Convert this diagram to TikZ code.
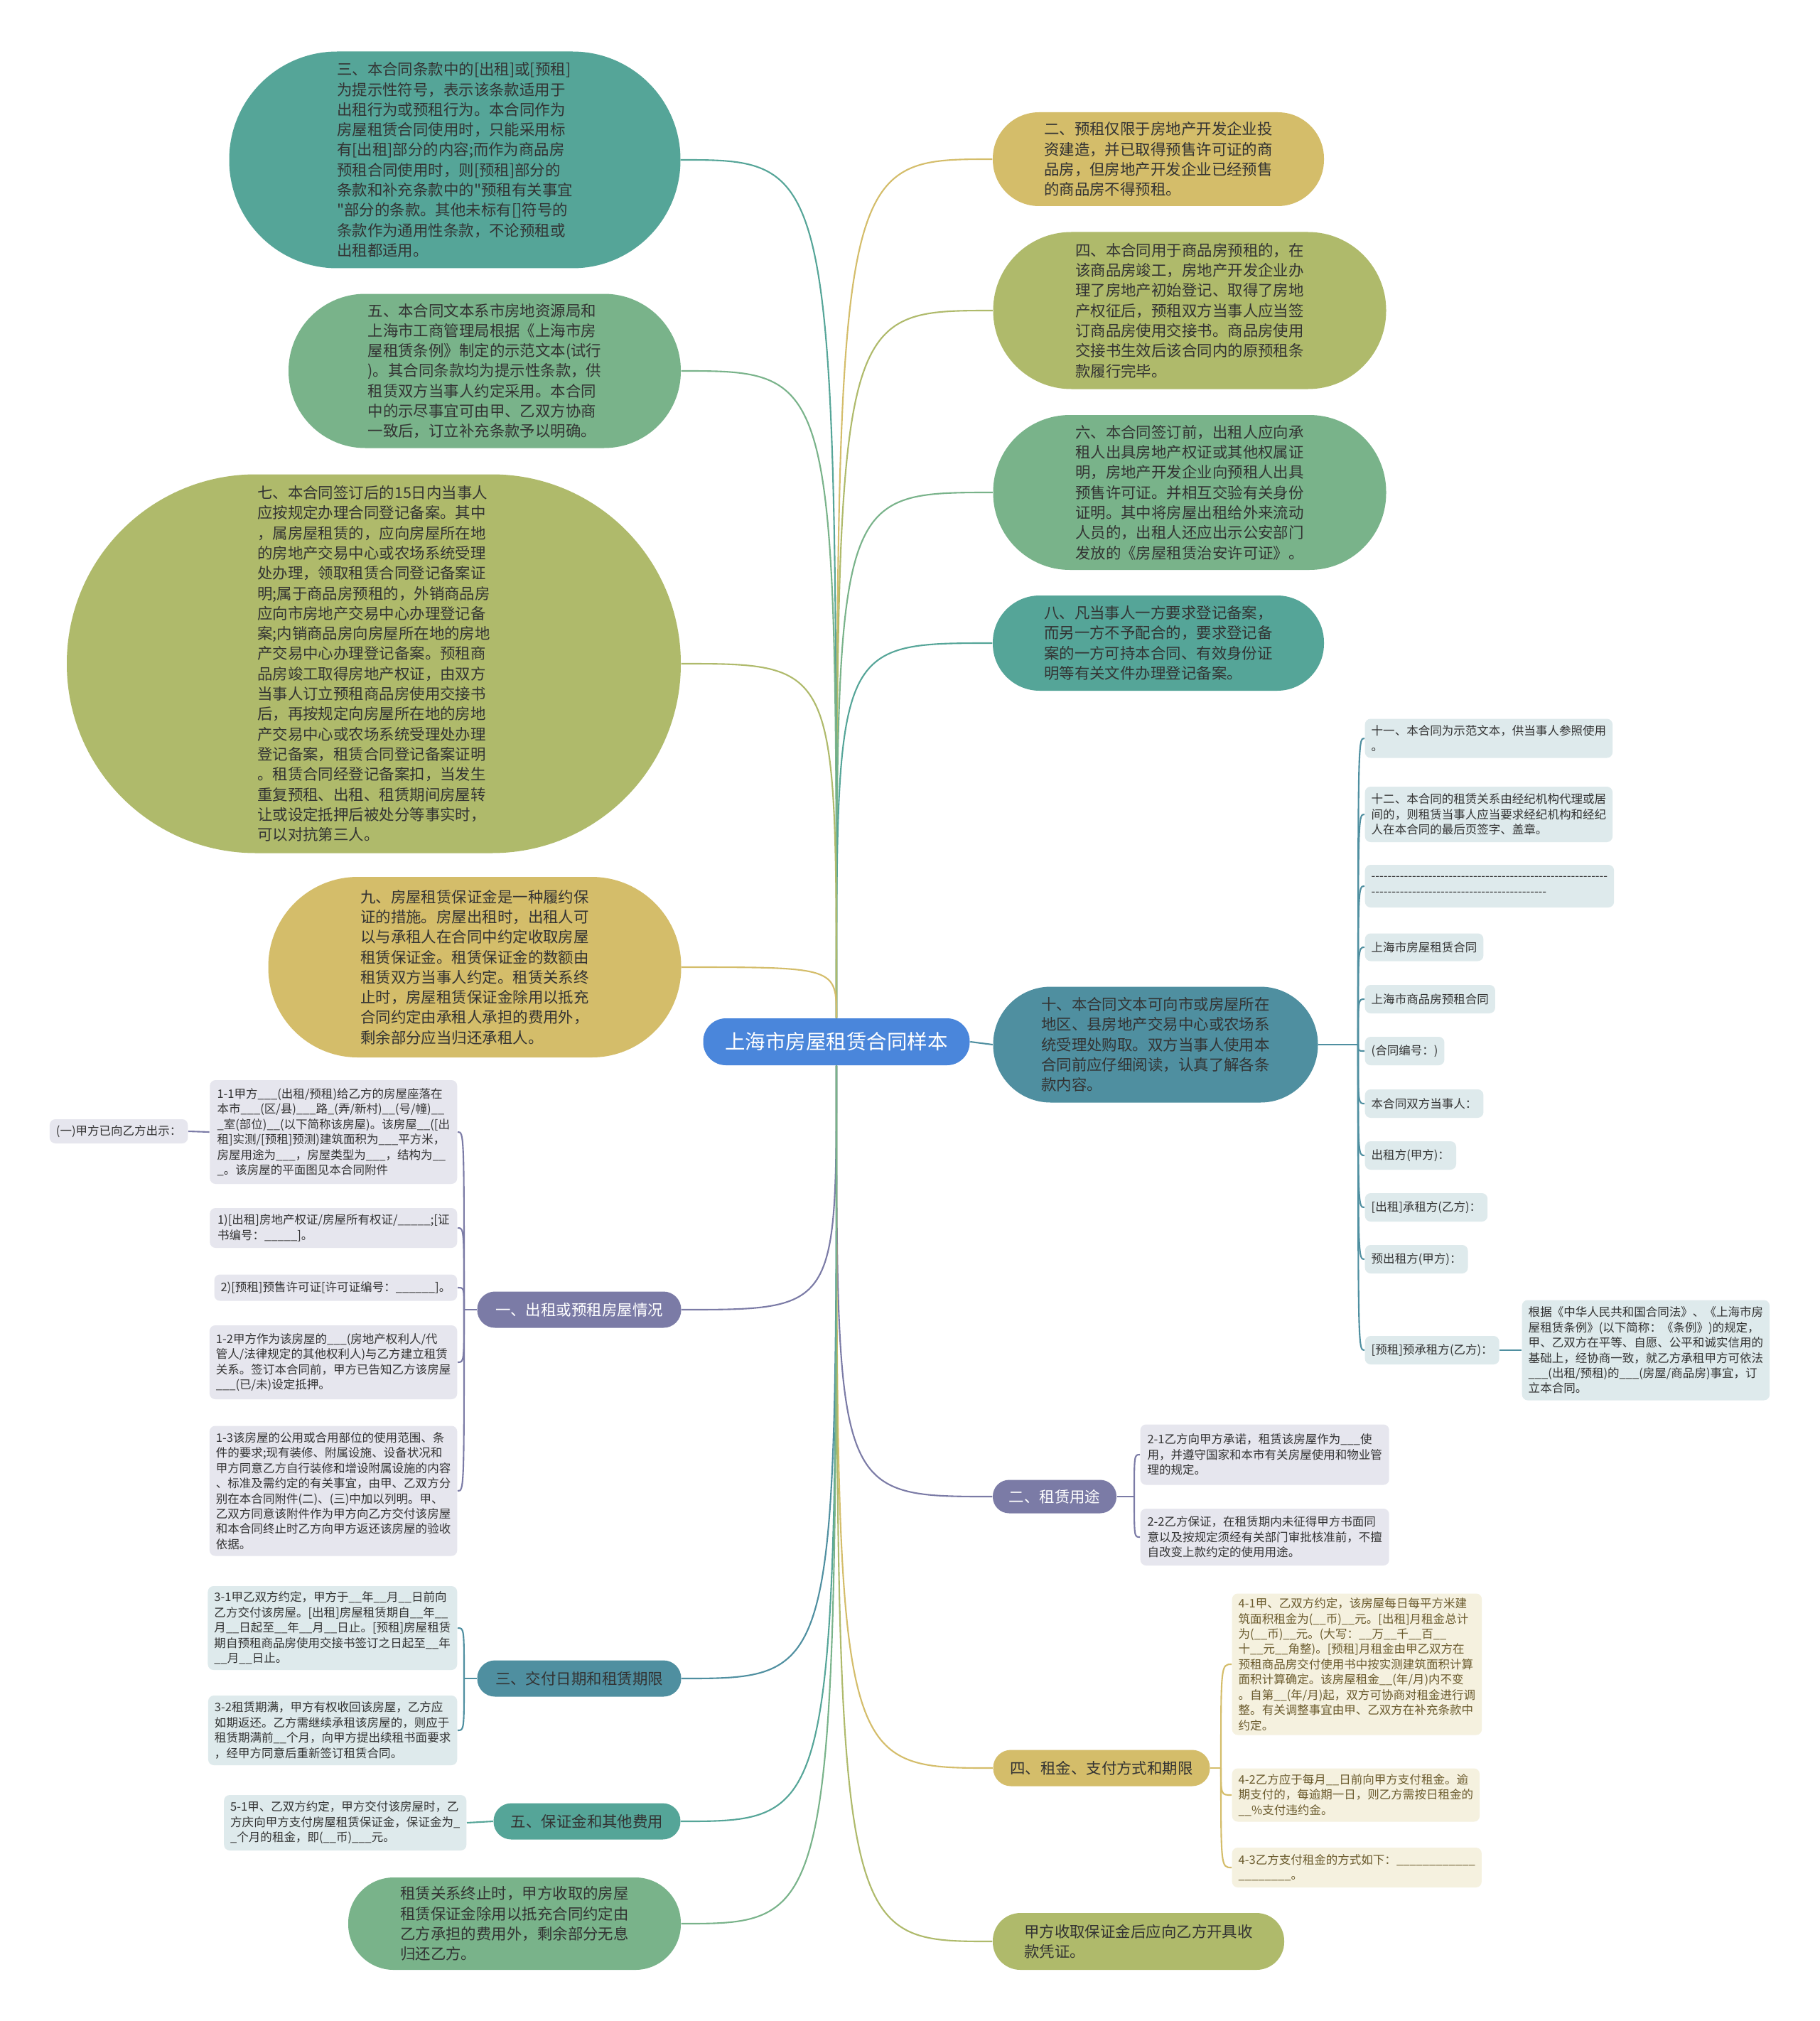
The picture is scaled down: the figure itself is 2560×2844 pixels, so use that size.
\documentclass[tikz,border=0pt]{standalone}
\usepackage{fontspec}
\setmainfont{Noto Sans CJK SC}[Ligatures=TeXOff]
\usepackage{tikz}
\usetikzlibrary{calc}
\definecolor{cRoot}{HTML}{4A86DB}
\definecolor{cTeal}{HTML}{55A598}
\definecolor{cGreen}{HTML}{79B38A}
\definecolor{cOlive}{HTML}{AFBA6B}
\definecolor{cGold}{HTML}{D4BD6A}
\definecolor{cSea}{HTML}{4F8FA0}
\definecolor{cPurple}{HTML}{7B7BA6}
\definecolor{cLeafGray}{HTML}{E6E6EE}
\definecolor{cLeafBlue}{HTML}{DEEAEC}
\definecolor{cLeafCream}{HTML}{F5F1DF}
\definecolor{cInk}{HTML}{333333}
\definecolor{cInkBrown}{HTML}{6A5A2C}
\tikzset{
  mmroot/.style={fill=cRoot, text=white, inner sep=0pt, minimum width=37.5mm, minimum height=6.6mm, rounded corners=3.2mm, font=\fontsize{8.1pt}{9pt}\selectfont},
  mmbig/.style={text=cInk, inner sep=0pt, align=left, font=\fontsize{6.1pt}{8.05pt}\selectfont},
  mmbranch/.style={inner sep=0pt, minimum height=5.1mm, rounded corners=2.5mm, font=\fontsize{6.1pt}{7pt}\selectfont},
  mmleaf/.style={text=cInk, rounded corners=0.8mm, align=left, inner xsep=0.9mm, inner ysep=0.4mm, font=\fontsize{4.7pt}{6.1pt}\selectfont},
  mmlink/.style={line width=0.6pt}
}
\begin{document}
\begin{tikzpicture}[x=0.1mm,y=-0.1mm]
  \useasboundingbox[fill=white] (0,0) rectangle (2560,2844);

  \node[mmroot] (root) at (1177,1466) {上海市房屋租赁合同样本};

  % left side
  \node[mmbig, fill=cTeal, minimum width=63.5mm, minimum height=30.5mm, rounded corners=15.2mm] (n3) at (640,225)
    {三、本合同条款中的[出租]或[预租]\\为提示性符号，表示该条款适用于\\出租行为或预租行为。本合同作为\\房屋租赁合同使用时，只能采用标\\有[出租]部分的内容;而作为商品房\\预租合同使用时，则[预租]部分的\\条款和补充条款中的"预租有关事宜\\"部分的条款。其他未标有[]符号的\\条款作为通用性条款，不论预租或\\出租都适用。};
  \node[mmbig, fill=cGreen, minimum width=55.2mm, minimum height=21.7mm, rounded corners=10.8mm] (n5) at (682,522)
    {五、本合同文本系市房地资源局和\\上海市工商管理局根据《上海市房\\屋租赁条例》制定的示范文本(试行\\)。其合同条款均为提示性条款，供\\租赁双方当事人约定采用。本合同\\中的示尽事宜可由甲、乙双方协商\\一致后，订立补充条款予以明确。};
  \node[mmbig, fill=cOlive, minimum width=86.4mm, minimum height=53.3mm, rounded corners=26.6mm] (n7) at (526,934)
    {七、本合同签订后的15日内当事人\\应按规定办理合同登记备案。其中\\，属房屋租赁的，应向房屋所在地\\的房地产交易中心或农场系统受理\\处办理，领取租赁合同登记备案证\\明;属于商品房预租的，外销商品房\\应向市房地产交易中心办理登记备\\案;内销商品房向房屋所在地的房地\\产交易中心办理登记备案。预租商\\品房竣工取得房地产权证，由双方\\当事人订立预租商品房使用交接书\\后，再按规定向房屋所在地的房地\\产交易中心或农场系统受理处办理\\登记备案，租赁合同登记备案证明\\。租赁合同经登记备案扣，当发生\\重复预租、出租、租赁期间房屋转\\让或设定抵押后被处分等事实时，\\可以对抗第三人。};
  \node[mmbig, fill=cGold, minimum width=58.1mm, minimum height=25.4mm, rounded corners=12.6mm] (n9) at (668,1361)
    {九、房屋租赁保证金是一种履约保\\证的措施。房屋出租时，出租人可\\以与承租人在合同中约定收取房屋\\租赁保证金。租赁保证金的数额由\\租赁双方当事人约定。租赁关系终\\止时，房屋租赁保证金除用以抵充\\合同约定由承租人承担的费用外，\\剩余部分应当归还承租人。};
  \node[mmbig, fill=cGreen, minimum width=46.8mm, minimum height=13mm, rounded corners=6.4mm] (nend) at (724,2707)
    {租赁关系终止时，甲方收取的房屋\\租赁保证金除用以抵充合同约定由\\乙方承担的费用外，剩余部分无息\\归还乙方。};

  \node[mmbranch, fill=cPurple, text=white, minimum width=28.7mm] (b1) at (815,1843) {一、出租或预租房屋情况};
  \node[mmbranch, fill=cSea, text=cInk, minimum width=28.7mm] (b3) at (815,2362) {三、交付日期和租赁期限};
  \node[mmbranch, fill=cTeal, text=cInk, minimum width=26.3mm] (b5) at (826,2563) {五、保证金和其他费用};

  \node[mmleaf, fill=cLeafGray, anchor=east, minimum width=34.8mm, minimum height=14.6mm] (l11) at (644,1593)
    {1-1甲方\_\_\_(出租/预租)给乙方的房屋座落在\\本市\_\_\_(区/县)\_\_\_路\_(弄/新村)\_\_(号/幢)\_\_\\\_室(部位)\_\_(以下简称该房屋)。该房屋\_\_([出\\租]实测/[预租]预测)建筑面积为\_\_\_平方米，\\房屋用途为\_\_\_，房屋类型为\_\_\_，结构为\_\_\\\_。该房屋的平面图见本合同附件};
  \node[mmleaf, fill=cLeafGray, anchor=east, minimum height=3.4mm] (l10) at (265,1592) {(一)甲方已向乙方出示：};
  \node[mmleaf, fill=cLeafGray, anchor=east, minimum width=34.8mm, minimum height=5.6mm] (l1a) at (644,1728)
    {1)[出租]房地产权证/房屋所有权证/\_\_\_\_\_;[证\\书编号：\_\_\_\_\_]。};
  \node[mmleaf, fill=cLeafGray, anchor=east, minimum height=3.7mm] (l1b) at (644,1812)
    {2)[预租]预售许可证[许可证编号：\_\_\_\_\_\_]。};
  \node[mmleaf, fill=cLeafGray, anchor=east, minimum width=34.8mm, minimum height=10.4mm] (l12) at (644,1917)
    {1-2甲方作为该房屋的\_\_\_(房地产权利人/代\\管人/法律规定的其他权利人)与乙方建立租赁\\关系。签订本合同前，甲方已告知乙方该房屋\\\_\_\_(已/未)设定抵押。};
  \node[mmleaf, fill=cLeafGray, anchor=east, minimum width=34.8mm, minimum height=18.3mm] (l13) at (644,2098)
    {1-3该房屋的公用或合用部位的使用范围、条\\件的要求;现有装修、附属设施、设备状况和\\甲方同意乙方自行装修和增设附属设施的内容\\、标准及需约定的有关事宜，由甲、乙双方分\\别在本合同附件(二)、(三)中加以列明。甲、\\乙双方同意该附件作为甲方向乙方交付该房屋\\和本合同终止时乙方向甲方返还该房屋的验收\\依据。};
  \node[mmleaf, fill=cLeafBlue, anchor=east, minimum width=34.8mm, minimum height=11.8mm] (l31) at (644,2291)
    {3-1甲乙双方约定，甲方于\_\_年\_\_月\_\_日前向\\乙方交付该房屋。[出租]房屋租赁期自\_\_年\_\_\\月\_\_日起至\_\_年\_\_月\_\_日止。[预租]房屋租赁\\期自预租商品房使用交接书签订之日起至\_\_年\\\_\_月\_\_日止。};
  \node[mmleaf, fill=cLeafBlue, anchor=east, minimum width=34.8mm, minimum height=9.8mm] (l32) at (644,2435)
    {3-2租赁期满，甲方有权收回该房屋，乙方应\\如期返还。乙方需继续承租该房屋的，则应于\\租赁期满前\_\_个月，向甲方提出续租书面要求\\，经甲方同意后重新签订租赁合同。};
  \node[mmleaf, fill=cLeafBlue, anchor=east, minimum width=33.9mm, minimum height=7.8mm] (l51) at (657,2565)
    {5-1甲、乙双方约定，甲方交付该房屋时，乙\\方庆向甲方支付房屋租赁保证金，保证金为\_\\\_个月的租金，即(\_\_币)\_\_\_元。};

  % right side
  \node[mmbig, fill=cGold, minimum width=46.6mm, minimum height=13.2mm, rounded corners=6.5mm] (n2) at (1630,224)
    {二、预租仅限于房地产开发企业投\\资建造，并已取得预售许可证的商\\品房，但房地产开发企业已经预售\\的商品房不得预租。};
  \node[mmbig, fill=cOlive, minimum width=55.3mm, minimum height=22.1mm, rounded corners=11mm] (n4) at (1674,437)
    {四、本合同用于商品房预租的，在\\该商品房竣工，房地产开发企业办\\理了房地产初始登记、取得了房地\\产权征后，预租双方当事人应当签\\订商品房使用交接书。商品房使用\\交接书生效后该合同内的原预租条\\款履行完毕。};
  \node[mmbig, fill=cGreen, minimum width=55.3mm, minimum height=21.8mm, rounded corners=10.8mm] (n6) at (1674,693)
    {六、本合同签订前，出租人应向承\\租人出具房地产权证或其他权属证\\明，房地产开发企业向预租人出具\\预售许可证。并相互交验有关身份\\证明。其中将房屋出租给外来流动\\人员的，出租人还应出示公安部门\\发放的《房屋租赁治安许可证》。};
  \node[mmbig, fill=cTeal, minimum width=46.6mm, minimum height=13.4mm, rounded corners=6.6mm] (n8) at (1630,905)
    {八、凡当事人一方要求登记备案，\\而另一方不予配合的，要求登记备\\案的一方可持本合同、有效身份证\\明等有关文件办理登记备案。};
  \node[mmbig, fill=cSea, minimum width=45.7mm, minimum height=16.3mm, rounded corners=8.1mm] (n10) at (1626,1470)
    {十、本合同文本可向市或房屋所在\\地区、县房地产交易中心或农场系\\统受理处购取。双方当事人使用本\\合同前应仔细阅读，认真了解各条\\款内容。};
  \node[mmbig, fill=cOlive, minimum width=41mm, minimum height=8mm, rounded corners=3.9mm] (nrcpt) at (1602,2732)
    {甲方收取保证金后应向乙方开具收\\款凭证。};

  \node[mmbranch, fill=cPurple, text=white, minimum width=17.4mm, minimum height=4.7mm, rounded corners=2.3mm] (b2) at (1484,2106) {二、租赁用途};
  \node[mmbranch, fill=cGold, text=cInk, minimum width=30.5mm] (b4) at (1550,2488) {四、租金、支付方式和期限};

  \node[mmleaf, fill=cLeafBlue, anchor=west, minimum width=34.8mm, minimum height=5.5mm] (r11) at (1920,1039)
    {十一、本合同为示范文本，供当事人参照使用\\。};
  \node[mmleaf, fill=cLeafBlue, anchor=west, minimum width=34.8mm, minimum height=7.8mm] (r12) at (1920,1146)
    {十二、本合同的租赁关系由经纪机构代理或居\\间的，则租赁当事人应当要求经纪机构和经纪\\人在本合同的最后页签字、盖章。};
  \node[mmleaf, fill=cLeafBlue, anchor=west, minimum width=34.8mm, minimum height=6mm] (r13) at (1920,1247)
    {----------------------------------------------------------\\-------------------------------------------};
  \node[mmleaf, fill=cLeafBlue, anchor=west, minimum height=3.9mm] (r14) at (1920,1333) {上海市房屋租赁合同};
  \node[mmleaf, fill=cLeafBlue, anchor=west, minimum height=4mm] (r15) at (1920,1406) {上海市商品房预租合同};
  \node[mmleaf, fill=cLeafBlue, anchor=west, minimum height=4mm] (r16) at (1920,1479) {(合同编号：)};
  \node[mmleaf, fill=cLeafBlue, anchor=west, minimum height=4mm] (r17) at (1920,1553) {本合同双方当事人：};
  \node[mmleaf, fill=cLeafBlue, anchor=west, minimum height=4mm] (r18) at (1920,1626) {出租方(甲方)：};
  \node[mmleaf, fill=cLeafBlue, anchor=west, minimum height=4mm] (r19) at (1920,1699) {[出租]承租方(乙方)：};
  \node[mmleaf, fill=cLeafBlue, anchor=west, minimum height=4mm] (r20) at (1920,1772) {预出租方(甲方)：};
  \node[mmleaf, fill=cLeafBlue, anchor=west, minimum height=4mm] (r21) at (1920,1900) {[预租]预承租方(乙方)：};
  \node[mmleaf, fill=cLeafBlue, anchor=west, minimum width=34.8mm, minimum height=14.1mm] (r22) at (2141,1900)
    {根据《中华人民共和国合同法》、《上海市房\\屋租赁条例》(以下简称：《条例》)的规定，\\甲、乙双方在平等、自愿、公平和诚实信用的\\基础上，经协商一致，就乙方承租甲方可依法\\\_\_\_(出租/预租)的\_\_\_(房屋/商品房)事宜，订\\立本合同。};

  \node[mmleaf, fill=cLeafGray, anchor=west, minimum width=35mm, minimum height=8.5mm] (l21) at (1604,2047)
    {2-1乙方向甲方承诺，租赁该房屋作为\_\_\_使\\用，并遵守国家和本市有关房屋使用和物业管\\理的规定。};
  \node[mmleaf, fill=cLeafGray, anchor=west, minimum width=35mm, minimum height=8mm] (l22) at (1604,2163)
    {2-2乙方保证，在租赁期内未征得甲方书面同\\意以及按规定须经有关部门审批核准前，不擅\\自改变上款约定的使用用途。};
  \node[mmleaf, fill=cLeafCream, text=cInkBrown, anchor=west, minimum width=34.8mm, minimum height=19.9mm] (l41) at (1733,2342)
    {4-1甲、乙双方约定，该房屋每日每平方米建\\筑面积租金为(\_\_币)\_\_元。[出租]月租金总计\\为(\_\_币)\_\_元。(大写：\_\_万\_\_千\_\_百\_\_\\十\_\_元\_\_角整)。[预租]月租金由甲乙双方在\\预租商品房交付使用书中按实测建筑面积计算\\面积计算确定。该房屋租金\_\_(年/月)内不变\\。自第\_\_(年/月)起，双方可协商对租金进行调\\整。有关调整事宜由甲、乙双方在补充条款中\\约定。};
  \node[mmleaf, fill=cLeafCream, text=cInkBrown, anchor=west, minimum width=34.8mm, minimum height=7.5mm] (l42) at (1733,2526)
    {4-2乙方应于每月\_\_日前向甲方支付租金。逾\\期支付的，每逾期一日，则乙方需按日租金的\\\_\_\%支付违约金。};
  \node[mmleaf, fill=cLeafCream, text=cInkBrown, anchor=west, minimum width=34.8mm, minimum height=5.6mm] (l43) at (1733,2628)
    {4-3乙方支付租金的方式如下：\_\_\_\_\_\_\_\_\_\_\_\_\\\_\_\_\_\_\_\_\_。};

  % links from the root
  \foreach \t/\c in {n2/cGold, n4/cOlive, n6/cGreen, n8/cTeal}
    \draw[mmlink, \c] (root.north) .. controls (root.north |- \t.west) .. (\t.west);
  \foreach \t/\c in {n3/cTeal, n5/cGreen, n7/cOlive, n9/cGold}
    \draw[mmlink, \c] (root.north) .. controls (root.north |- \t.east) .. (\t.east);
  \foreach \t/\c in {b2/cPurple, b4/cGold, nrcpt/cOlive}
    \draw[mmlink, \c] (root.south) .. controls (root.south |- \t.west) .. (\t.west);
  \foreach \t/\c in {b1/cPurple, b3/cSea, b5/cTeal, nend/cGreen}
    \draw[mmlink, \c] (root.south) .. controls (root.south |- \t.east) .. (\t.east);
  \draw[mmlink, cSea] (root.east) -- (n10.west);

  % brackets to the leaves
  \coordinate (b1j) at (653,1843);
  \draw[mmlink, cPurple] (b1.west) -- (b1j);
  \foreach \l in {l11,l1a,l1b,l12,l13}
    \draw[mmlink, cPurple] (b1j) .. controls (b1j |- \l.east) .. (\l.east);
  \draw[mmlink, cPurple] (l11.west) -- (l10.east);

  \coordinate (b3j) at (653,2362);
  \draw[mmlink, cSea] (b3.west) -- (b3j);
  \foreach \l in {l31,l32}
    \draw[mmlink, cSea] (b3j) .. controls (b3j |- \l.east) .. (\l.east);
  \draw[mmlink, cTeal] (b5.west) -- (l51.east);

  \coordinate (n10j) at (1911,1470);
  \draw[mmlink, cSea] (n10.east) -- (n10j);
  \foreach \l in {r11,r12,r13,r14,r15,r16,r17,r18,r19,r20,r21}
    \draw[mmlink, cSea] (n10j) .. controls (n10j |- \l.west) .. (\l.west);
  \draw[mmlink, cSea] (r21.east) -- (r22.west);

  \coordinate (b2j) at (1596,2106);
  \draw[mmlink, cPurple] (b2.east) -- (b2j);
  \foreach \l in {l21,l22}
    \draw[mmlink, cPurple] (b2j) .. controls (b2j |- \l.west) .. (\l.west);

  \coordinate (b4j) at (1718,2488);
  \draw[mmlink, cGold] (b4.east) -- (b4j);
  \foreach \l in {l41,l42,l43}
    \draw[mmlink, cGold] (b4j) .. controls (b4j |- \l.west) .. (\l.west);
\end{tikzpicture}
\end{document}
